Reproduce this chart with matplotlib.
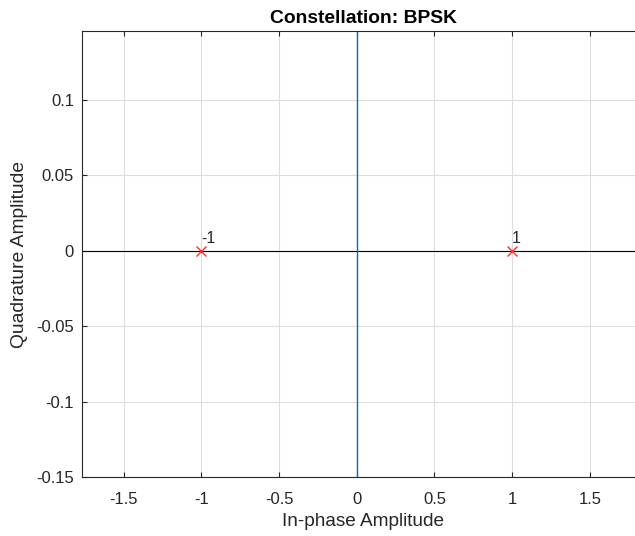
import matplotlib
matplotlib.use("Agg")
import matplotlib.pyplot as plt

# Constellation points (BPSK)
sym_i = [-1, 1]
sym_q = [0, 0]
sym_labels = ["-1", "1"]

xticks = [-1.5, -1, -0.5, 0, 0.5, 1, 1.5]
yticks = [-0.15, -0.1, -0.05, 0, 0.05, 0.1]
ytick_labels = ["-0.15", "-0.1", "-0.05", "0", "0.05", "0.1"]
xtick_labels = ["-1.5", "-1", "-0.5", "0", "0.5", "1", "1.5"]

plt.rcParams["font.family"] = ["Liberation Sans", "DejaVu Sans"]

fig = plt.figure(figsize=(6.35, 5.36), dpi=100)
# axes runs a bit past the right edge, like the cropped original
ax = fig.add_axes([82 / 635, 59 / 536, (645 - 82) / 635, (477 - 31) / 536])

ax.axhline(0, color="black", linewidth=0.8, zorder=2)
ax.axvline(0, color="#0072BD", linewidth=1.0, zorder=2)

ax.plot(sym_i, sym_q, linestyle="none", marker="x", color="#FF3030",
        markersize=6.5, markeredgewidth=1.0, zorder=3)
for xi, yi, lab in zip(sym_i, sym_q, sym_labels):
    ax.annotate(lab, (xi, yi), xytext=(0, 3), textcoords="offset points",
                ha="left", va="bottom", fontsize=11.5, color="#262626")

ax.set_xlim(-1.768, 1.855)
ax.set_ylim(-0.15, 0.1455)
ax.set_xticks(xticks)
ax.set_xticklabels(xtick_labels)
ax.set_yticks(yticks)
ax.set_yticklabels(ytick_labels)

ax.grid(True, color="#DDDDDD", linewidth=0.8)
ax.set_axisbelow(True)
ax.tick_params(direction="in", top=True, right=True, length=3.5,
               labelsize=12, colors="#262626", width=0.8)
ax.tick_params(axis="x", pad=11)
ax.tick_params(axis="y", pad=5.8)
for s in ax.spines.values():
    s.set_color("#262626")
    s.set_linewidth(0.8)

ax.set_title("Constellation: BPSK", fontsize=13.9, fontweight="bold", pad=5.8)
ax.set_xlabel("In-phase Amplitude", fontsize=13.7, color="#262626", labelpad=4)
ax.set_ylabel("Quadrature Amplitude", fontsize=13.9, color="#262626", labelpad=6)

fig.savefig("out.png", dpi=100)
